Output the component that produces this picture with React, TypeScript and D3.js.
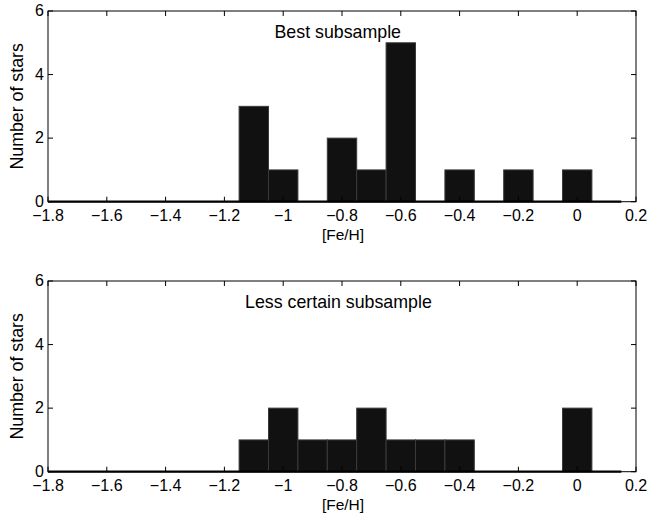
import React from "react";
import * as d3 from "d3";

const binCenters = [-1.1, -1.0, -0.9, -0.8, -0.7, -0.6, -0.5, -0.4, -0.3, -0.2, -0.1, 0.0, 0.1];
const bestCounts = [3, 1, 0, 2, 1, 5, 0, 1, 0, 1, 0, 1, 0];
const lessCounts = [1, 2, 1, 1, 2, 1, 1, 1, 0, 0, 0, 2, 0];
const xTicks = [-1.8, -1.6, -1.4, -1.2, -1, -0.8, -0.6, -0.4, -0.2, 0, 0.2];
const yTicks = [0, 2, 4, 6];
const binWidth = 0.1;
const baselineEnd = 0.15;

const W = 650;
const H = 517;
const left = 48;
const right = 636;
const panelTop = [11, 281];
const panelH = 190.7;
const FONT = "'Liberation Sans', Arial, Helvetica, sans-serif";

const fmt = (v: number) => {
  const s = d3.format("")(+v.toFixed(1));
  return s.replace("-", "\u2212");
};

function Panel({ top, counts, title, titleX }: { top: number; counts: number[]; title: string; titleX: number }) {
  const x = d3.scaleLinear().domain([-1.8, 0.2]).range([left, right]);
  const y = d3.scaleLinear().domain([0, 6]).range([top + panelH, top]);
  const bottom = top + panelH;
  const tickLen = 5;
  return (
    <g>
      {binCenters.map((c, i) =>
        counts[i] > 0 ? (
          <rect
            key={i}
            x={x(c - binWidth / 2)}
            y={y(counts[i])}
            width={x(c + binWidth / 2) - x(c - binWidth / 2)}
            height={y(0) - y(counts[i])}
            fill="#111"
            stroke="#3a3a3a"
            strokeWidth={1}
          />
        ) : null
      )}
      <line x1={x(-1.8)} x2={x(baselineEnd)} y1={y(0)} y2={y(0)} stroke="#000" strokeWidth={2.2} />
      <rect x={left} y={top} width={right - left} height={panelH} fill="none" stroke="#000" strokeWidth={1} />
      {xTicks.map((t) => (
        <g key={"x" + t}>
          <line x1={x(t)} x2={x(t)} y1={bottom} y2={bottom - tickLen} stroke="#000" />
          <line x1={x(t)} x2={x(t)} y1={top} y2={top + tickLen} stroke="#000" />
          <text x={x(t)} y={bottom + 19} textAnchor="middle" fontSize={16} fontFamily={FONT} fill="#000">
            {fmt(t)}
          </text>
        </g>
      ))}
      {yTicks.map((t) => (
        <g key={"y" + t}>
          <line x1={left} x2={left + tickLen} y1={y(t)} y2={y(t)} stroke="#000" />
          <line x1={right} x2={right - tickLen} y1={y(t)} y2={y(t)} stroke="#000" />
          <text x={left - 4} y={y(t) + 5} textAnchor="end" fontSize={16} fontFamily={FONT} fill="#000">
            {fmt(t)}
          </text>
        </g>
      ))}
      <text x={titleX} y={top + 27} fontSize={17.8} fontFamily={FONT} fill="#000">
        {title}
      </text>
      <text x={(left + right) / 2 + 1} y={bottom + 38} textAnchor="middle" fontSize={15.5} fontFamily={FONT} fill="#000">
        [Fe/H]
      </text>
      <text
        transform={`translate(22.5, ${top + panelH / 2}) rotate(-90)`}
        textAnchor="middle"
        fontSize={17.8}
        fontFamily={FONT}
        fill="#000"
      >
        Number of stars
      </text>
    </g>
  );
}

export default function App() {
  return (
    <svg width={W} height={H} style={{ position: "absolute", left: 0, top: 0, background: "#fff" }}>
      <rect width={W} height={H} fill="#fff" />
      <Panel top={panelTop[0]} counts={bestCounts} title="Best subsample" titleX={274.5} />
      <Panel top={panelTop[1]} counts={lessCounts} title="Less certain subsample" titleX={245} />
    </svg>
  );
}
